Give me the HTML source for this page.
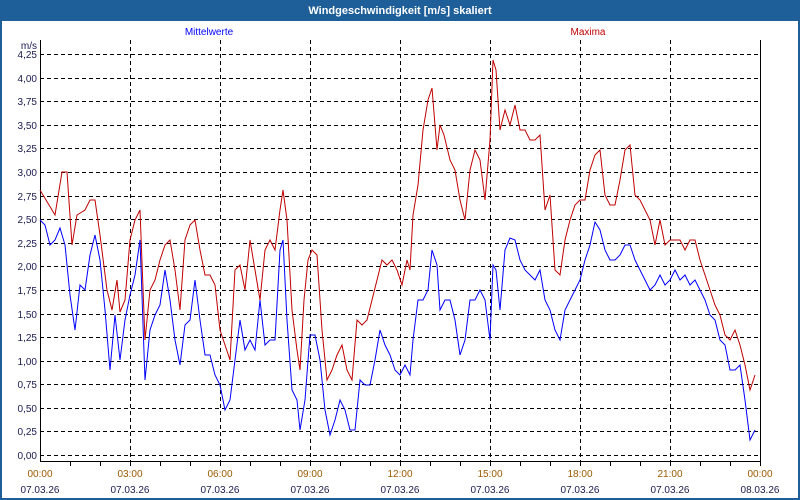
<!DOCTYPE html><html><head><style>body{margin:0}svg{display:block}</style></head><body>
<svg width="800" height="500" xmlns="http://www.w3.org/2000/svg" font-family="Liberation Sans, sans-serif" font-size="10">
<rect x="0" y="0" width="800" height="500" fill="#1f5f99"/>
<rect x="2" y="21" width="796" height="477" fill="#fff"/>
<text x="400" y="14" fill="#fff" font-weight="bold" font-size="11" text-anchor="middle">Windgeschwindigkeit [m/s] skaliert</text>
<text x="209" y="35" fill="#0000ff" text-anchor="middle">Mittelwerte</text>
<text x="588" y="35" fill="#c00000" text-anchor="middle">Maxima</text>
<g stroke="#000" stroke-dasharray="4,3" stroke-width="1">
<path d="M40 54.5H760M40 78.5H760M40 101.5H760M40 125.5H760M40 148.5H760M40 172.5H760M40 196.5H760M40 219.5H760M40 243.5H760M40 266.5H760M40 290.5H760M40 314.5H760M40 337.5H760M40 361.5H760M40 384.5H760M40 408.5H760M40 431.5H760M40 455.5H760"/>
<path d="M130.5 40V461M220.5 40V461M310.5 40V461M400.5 40V461M490.5 40V461M580.5 40V461M670.5 40V461"/>
</g>
<path d="M40.5 40V461.5H760.5V40" fill="none" stroke="#000"/>
<g stroke="#000"><path d="M70.5 461v5M100.5 461v5M130.5 461v5M160.5 461v5M190.5 461v5M220.5 461v5M250.5 461v5M280.5 461v5M310.5 461v5M340.5 461v5M370.5 461v5M400.5 461v5M430.5 461v5M460.5 461v5M490.5 461v5M520.5 461v5M550.5 461v5M580.5 461v5M610.5 461v5M640.5 461v5M670.5 461v5M700.5 461v5M730.5 461v5M760.5 461v5"/></g>
<g fill="#1a1a50" text-anchor="end">
<text x="37" y="49">m/s</text>
<text x="37" y="58">4,25</text><text x="37" y="82">4,00</text><text x="37" y="105">3,75</text><text x="37" y="129">3,50</text><text x="37" y="152">3,25</text><text x="37" y="176">3,00</text><text x="37" y="200">2,75</text><text x="37" y="223">2,50</text><text x="37" y="247">2,25</text><text x="37" y="270">2,00</text><text x="37" y="294">1,75</text><text x="37" y="318">1,50</text><text x="37" y="341">1,25</text><text x="37" y="365">1,00</text><text x="37" y="388">0,75</text><text x="37" y="412">0,50</text><text x="37" y="435">0,25</text><text x="37" y="459">0,00</text>
</g>
<g text-anchor="middle">
<g fill="#9a5a00"><text x="40" y="477">00:00</text><text x="130" y="477">03:00</text><text x="220" y="477">06:00</text><text x="310" y="477">09:00</text><text x="400" y="477">12:00</text><text x="490" y="477">15:00</text><text x="580" y="477">18:00</text><text x="670" y="477">21:00</text><text x="760" y="477">00:00</text></g>
<g fill="#1a1a50"><text x="40" y="493">07.03.26</text><text x="130" y="493">07.03.26</text><text x="220" y="493">07.03.26</text><text x="310" y="493">07.03.26</text><text x="400" y="493">07.03.26</text><text x="490" y="493">07.03.26</text><text x="580" y="493">07.03.26</text><text x="670" y="493">07.03.26</text><text x="760" y="493">08.03.26</text></g>
</g>
<polyline fill="none" stroke="#c00000" points="40,190 55,215 62,172 67,172 72,245 77,215 85,210 90,200 95,200 100,235 107,290 112,310 117,280 120,312 125,300 130,240 135,220 140,210 145,340 150,290 155,280 160,260 165,245 170,240 175,270 180,310 185,240 190,225 195,220 200,250 205,275 210,275 215,285 220,330 225,345 230,360 235,270 240,265 245,290 250,240 255,270 260,300 265,250 270,240 275,250 280,210 283,190 287,220 292,310 297,350 300,370 304,300 308,260 312,250 317,255 322,330 327,380 332,370 337,355 342,345 347,370 352,380 357,320 362,325 367,320 372,300 377,280 382,260 387,265 392,260 397,270 402,285 407,260 410,270 413,215 418,185 423,130 428,100 432,88 437,150 440,125 444,135 450,160 455,170 460,200 465,220 470,170 475,150 480,160 485,200 490,140 493,60 496,70 500,130 505,110 510,125 515,105 520,130 525,130 530,140 535,140 540,135 545,210 550,195 555,270 560,275 565,240 570,220 575,205 580,200 585,200 590,170 595,155 600,150 605,195 610,205 615,205 620,180 625,150 630,145 635,195 640,200 645,210 650,220 655,245 660,220 665,245 670,240 675,240 680,240 685,250 690,240 695,240 700,260 705,275 710,290 715,305 720,315 725,335 730,340 735,330 740,345 745,365 750,390 755,375"/>
<polyline fill="none" stroke="#0000ff" points="40,220 45,225 50,245 55,240 60,228 65,245 70,295 75,330 80,285 85,290 90,255 95,235 100,260 105,310 110,370 115,315 120,360 125,320 130,295 135,275 140,240 145,380 150,330 155,315 160,305 165,270 170,300 175,340 180,365 185,325 190,320 195,280 200,320 205,355 210,355 215,375 220,385 225,410 230,400 235,360 240,320 245,350 250,340 255,350 260,300 265,345 270,340 275,340 280,250 283,240 287,320 292,390 297,400 300,430 305,400 310,335 315,335 320,360 325,410 330,435 335,420 340,400 345,410 350,430 355,430 360,380 365,385 370,385 375,360 380,330 385,345 390,355 395,370 400,375 405,365 410,375 413,340 418,300 423,300 428,290 432,250 437,265 440,310 445,300 450,300 455,320 460,355 465,340 470,300 475,300 480,290 485,300 490,340 493,265 496,270 500,310 505,250 510,238 515,240 520,260 525,270 530,275 535,280 540,270 545,300 550,310 555,330 560,340 565,310 570,300 575,290 580,280 585,260 590,245 595,222 600,230 605,250 610,260 615,260 620,255 625,245 630,245 635,260 640,270 645,280 650,290 655,285 660,275 665,285 670,280 675,270 680,280 685,275 690,285 695,280 700,290 705,300 710,315 715,320 720,340 725,345 730,370 735,370 740,365 745,400 750,440 755,430"/>
</svg></body></html>
